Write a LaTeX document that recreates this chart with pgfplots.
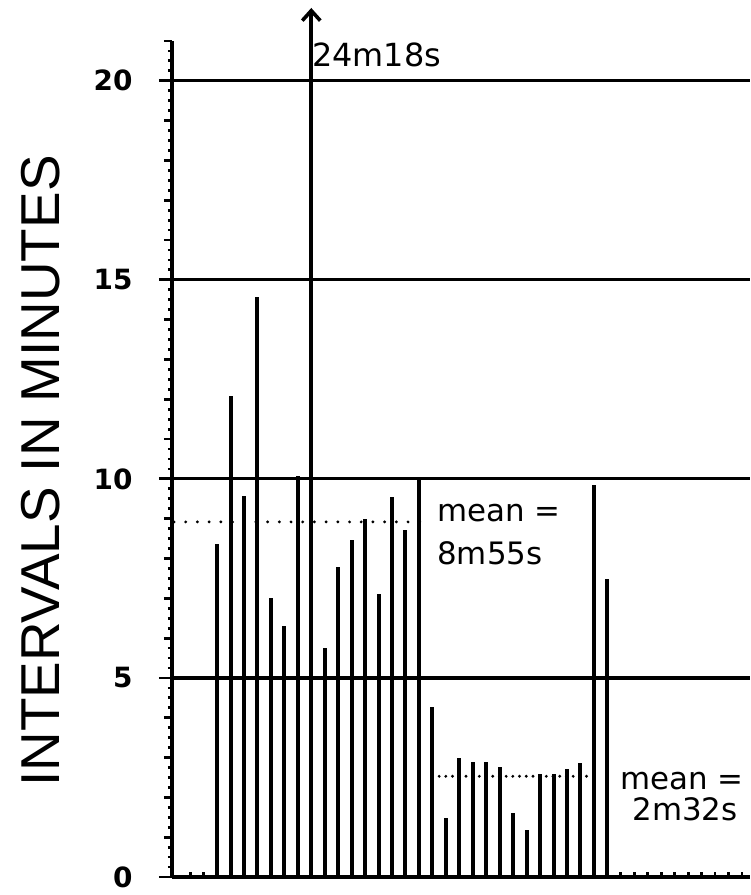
\documentclass[border=0pt]{standalone}
\usepackage{pgfplots}
\pgfplotsset{compat=1.18}
\usepackage{fontspec}
\setmainfont{DejaVu Sans}
\newfontfamily\labfont{Liberation Sans}
\usetikzlibrary{arrows.meta}

\begin{document}
\begin{tikzpicture}
\begin{axis}[
  scale only axis,
  width=578bp, height=836bp,
  xmin=-2.35, xmax=40.6, ymin=0, ymax=21,
  axis lines=left,
  axis line style={-, line width=3.4bp, black},
  clip=false,
  tick align=outside,
  major tick length=13bp,
  minor tick length=8bp,
  tick style={line width=2.8bp, black},
  xtick=\empty,
  extra x ticks={-1,0,...,40},
  extra x tick labels={},
  extra x tick style={tick align=inside, major tick length=5bp},
  ytick={0,5,10,15,20},
  minor ytick={1,2,3,4,6,7,8,9,11,12,13,14,16,17,18,19,21},
  extra y ticks={0.25,0.5,...,21},
  extra y tick labels={},
  extra y tick style={major tick length=4bp, grid=none},
  ymajorgrids,
  major grid style={line width=3.2bp, black},
  /pgf/number format/assume math mode=true,
  yticklabel style={font=\bfseries\fontsize{28}{28}\selectfont, xshift=-23bp},
  ylabel={INTERVALS IN MINUTES},
  ylabel style={font=\labfont\fontsize{55}{55}\selectfont, at={(axis description cs:-0.2266,0.4856)}, anchor=center},
]
% intervals in minutes (bar 8 = 24m18s, drawn separately with arrow)
\addplot[ycomb, mark=none, black, line width=4bp] coordinates {
(1,8.36) (2,12.08) (3,9.58) (4,14.57) (5,7.0) (6,6.3) (7,10.08)
(9,5.75) (10,7.78) (11,8.46) (12,9.0) (13,7.1) (14,9.55) (15,8.72) (16,9.97)
(17,4.28) (18,1.48) (19,3.0) (20,2.9) (21,2.9) (22,2.77) (23,1.62) (24,1.17)
(25,2.58) (26,2.58) (27,2.72) (28,2.86) (29,9.84) (30,7.48)
};
\addplot[mark=none, black, line width=3.6bp, -{Straight Barb[length=10bp, width=18bp]}] coordinates {(8,0) (8,21.83)};
% means
\addplot[mark=none, black, line width=3.2bp, line cap=round, dash pattern=on 0pt off 11.7bp] coordinates {(-2.2,8.92) (16.5,8.92)};
\addplot[mark=none, black, line width=3.2bp, line cap=round, dash pattern=on 0pt off 6.7bp] coordinates {(17.5,2.53) (28.7,2.53)};
\node[anchor=base west, inner sep=0, font=\fontsize{32}{32}\selectfont] at (axis cs:8.06,20.35) {24m18s};
\node[anchor=base west, inner sep=0, font=\fontsize{31}{31}\selectfont] at (axis cs:17.35,8.92) {mean =};
\node[anchor=base west, inner sep=0, font=\fontsize{31}{31}\selectfont] at (axis cs:17.35,7.84) {8m55s};
\node[anchor=base west, inner sep=0, font=\fontsize{31}{31}\selectfont] at (axis cs:30.96,2.19) {mean =};
\node[anchor=base west, inner sep=0, font=\fontsize{31}{31}\selectfont] at (axis cs:31.85,1.43) {2m32s};
\end{axis}
\pgfresetboundingbox
\path[use as bounding box] ([shift={(-172bp,-18bp)}]current axis.south west) rectangle ++(751bp,895bp);
\end{tikzpicture}
\end{document}
